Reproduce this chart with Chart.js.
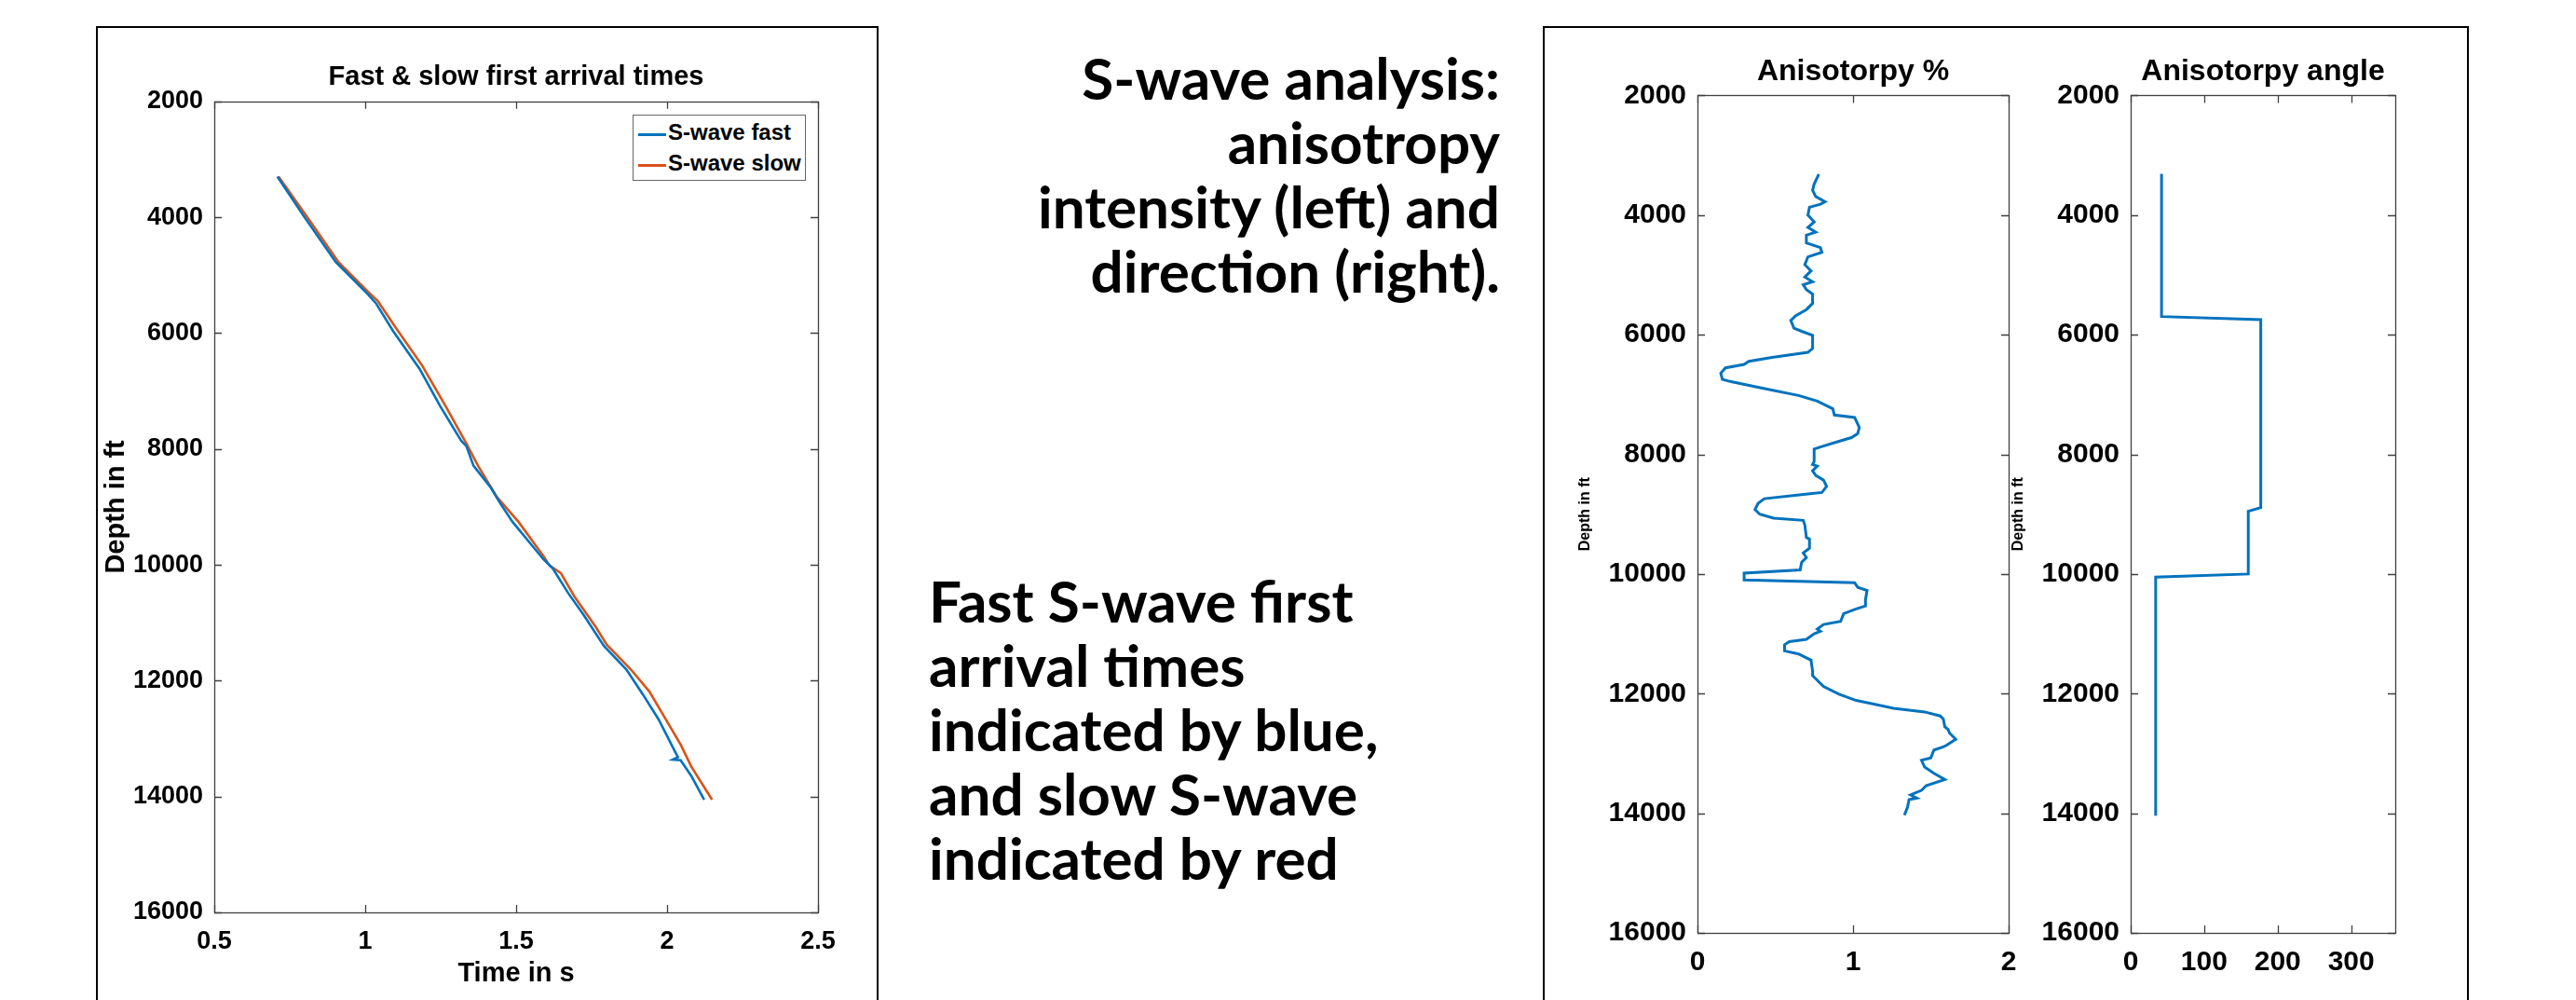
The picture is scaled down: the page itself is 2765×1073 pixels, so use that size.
<!DOCTYPE html>
<html>
<head>
<meta charset="utf-8">
<script src="https://cdn.jsdelivr.net/npm/chart.js@4.4.0/dist/chart.umd.min.js"></script>
<style>
  html, body { margin: 0; padding: 0; background: #fff; }
  body { width: 2765px; height: 1073px; position: relative; overflow: hidden; font-family: "Liberation Sans", Arial, sans-serif; }
  .frame { position: absolute; border: 2px solid #000; box-sizing: border-box; }
  canvas { position: absolute; }
  .note { position: absolute; font-family: Lato, "Open Sans", sans-serif; font-weight: 700; font-size: 62px; line-height: 69px; color: #000; white-space: nowrap; }
  #legend { position: absolute; left: 679px; top: 123px; width: 186px; height: 71px; box-sizing: border-box; border: 1px solid #666; background: #fff; padding-top: 4px; }
  #legend .row { position: relative; height: 33px; line-height: 33px; font: bold 24px "Liberation Sans", Arial, sans-serif; color: #000; }
  #legend .swatch { position: absolute; left: 5px; top: 15px; width: 30px; height: 3px; }
  #legend .label { position: absolute; left: 37px; top: 0; }
</style>
</head>
<body>
<div class="frame" style="left:103px; top:28px; width:840px; height:1100px;"></div>
<div class="frame" style="left:1656px; top:28px; width:994px; height:1100px;"></div>

<canvas id="arrivals" width="836" height="1043" style="left:104px; top:30px;"></canvas>
<div id="legend"></div>
<canvas id="pct" width="506" height="1043" style="left:1690px; top:30px;"></canvas>
<canvas id="angle" width="456" height="1043" style="left:2155px; top:30px;"></canvas>

<div class="note" style="right:1155px; top:49px; text-align:right;">S-wave analysis:<br>anisotropy<br>intensity (left) and<br>direction (right).</div>
<div class="note" style="left:997px; top:610px;">Fast S-wave first<br>arrival times<br>indicated by blue,<br>and slow S-wave<br>indicated by red</div>

<script>
// first arrival times (s) against depth (ft)
var depthFast = [3297, 4000, 4778, 5319, 5481, 5968, 6616, 7265, 7859, 7950, 8292, 8668, 8936, 9258, 9902, 10062, 10492, 10867, 11403, 11805, 12238, 12670, 13211, 13319, 13362, 13373, 13643, 14054];
var timeFast = [0.709, 0.799, 0.903, 1.007, 1.035, 1.093, 1.180, 1.249, 1.318, 1.335, 1.359, 1.416, 1.447, 1.488, 1.590, 1.621, 1.673, 1.724, 1.791, 1.865, 1.920, 1.972, 2.025, 2.036, 2.019, 2.045, 2.080, 2.123];
var depthSlow = [3297, 4000, 4778, 5319, 5449, 5914, 6562, 7265, 7914, 8292, 8828, 9265, 9848, 10014, 10143, 10545, 11081, 11377, 11805, 12184, 12562, 13103, 13481, 14054];
var timeSlow = [0.713, 0.808, 0.912, 1.016, 1.042, 1.102, 1.189, 1.267, 1.336, 1.374, 1.436, 1.509, 1.590, 1.611, 1.648, 1.693, 1.765, 1.800, 1.880, 1.941, 1.984, 2.045, 2.080, 2.149];

// anisotropy intensity (%)
var depthPct = [3316, 3482, 3585, 3689, 3777, 3819, 3870, 4000, 4114, 4207, 4285, 4337, 4466, 4544, 4622, 4699, 4829, 4933, 5036, 5114,
  5166, 5244, 5321, 5477, 5580, 5684, 5762, 5891, 5943, 6010, 6228, 6295, 6383, 6445, 6497, 6554, 6642, 6746, 6782, 6891,
  7016, 7109, 7238, 7342, 7383, 7549, 7653, 7720, 7782, 7876, 7912, 8119, 8171, 8197, 8275, 8352, 8430, 8534, 8637, 8663,
  8741, 8819, 8922, 9000, 9067, 9104, 9181, 9389, 9415, 9570, 9648, 9725, 9803, 9933, 9985, 10100, 10145, 10223, 10275, 10430,
  10534, 10585, 10663, 10793, 10845, 10922, 10958, 11000, 11093, 11130, 11181, 11285, 11337, 11440, 11622, 11699, 11751, 11881, 12010, 12114,
  12166, 12244, 12306, 12373, 12425, 12554, 12596, 12658, 12762, 12865, 12891, 12943, 13073, 13114, 13228, 13332, 13435, 13539, 13617, 13694,
  13746, 13772, 13902, 14031];
var anisoPct = [0.78, 0.75, 0.74, 0.76, 0.82, 0.79, 0.72, 0.71, 0.75, 0.71, 0.76, 0.70, 0.70, 0.79, 0.80, 0.71, 0.69, 0.73, 0.69, 0.74,
  0.68, 0.70, 0.74, 0.74, 0.70, 0.63, 0.60, 0.62, 0.67, 0.74, 0.74, 0.71, 0.47, 0.33, 0.30, 0.18, 0.15, 0.16, 0.21, 0.41,
  0.65, 0.77, 0.87, 0.88, 1.01, 1.04, 1.03, 0.99, 0.91, 0.79, 0.75, 0.75, 0.74, 0.77, 0.74, 0.76, 0.81, 0.83, 0.80, 0.71,
  0.43, 0.39, 0.37, 0.40, 0.49, 0.68, 0.69, 0.70, 0.72, 0.72, 0.68, 0.70, 0.67, 0.66, 0.30, 0.30, 1.01, 1.03, 1.09, 1.08,
  1.08, 1.02, 0.94, 0.92, 0.81, 0.77, 0.79, 0.75, 0.70, 0.59, 0.56, 0.56, 0.65, 0.73, 0.74, 0.74, 0.76, 0.81, 0.91, 1.02,
  1.12, 1.26, 1.46, 1.56, 1.58, 1.59, 1.61, 1.62, 1.66, 1.60, 1.58, 1.52, 1.50, 1.44, 1.46, 1.52, 1.59, 1.47, 1.44, 1.37,
  1.41, 1.36, 1.35, 1.33];

// anisotropy direction (degrees)
var depthAngle = [3309, 5696, 5749, 8890, 8953, 10000, 10052, 14040];
var anisoAngle = [42, 42, 177, 177, 160, 160, 34, 34];

var depthTicks = [2000, 4000, 6000, 8000, 10000, 12000, 14000, 16000];

var blue = '#0072BD';
var orange = '#D95319';
var sansBold = '"Liberation Sans", Arial, sans-serif';

function toPoints(xs, ys) {
  return xs.map(function (x, i) { return { x: x, y: ys[i] }; });
}

// MATLAB style box with inward ticks on all four sides
var boxTicks = {
  id: 'boxTicks',
  afterDraw: function (chart) {
    var c = chart.ctx, a = chart.chartArea, len = 8;
    c.save();
    c.strokeStyle = '#404040';
    c.lineWidth = 1.3;
    c.beginPath();
    chart.scales.x.ticks.forEach(function (t) {
      var px = Math.round(chart.scales.x.getPixelForValue(t.value)) + 0.5;
      c.moveTo(px, a.bottom); c.lineTo(px, a.bottom - len);
      c.moveTo(px, a.top); c.lineTo(px, a.top + len);
    });
    chart.scales.y.ticks.forEach(function (t) {
      var py = Math.round(chart.scales.y.getPixelForValue(t.value)) + 0.5;
      c.moveTo(a.left, py); c.lineTo(a.left + len, py);
      c.moveTo(a.right, py); c.lineTo(a.right - len, py);
    });
    c.stroke();
    c.strokeRect(Math.round(a.left) + 0.5, Math.round(a.top) + 0.5, Math.round(a.right - a.left), Math.round(a.bottom - a.top));
    c.restore();
  }
};

function depthAxis(width, tickSize, titleText, titleSize, titlePad) {
  return {
    type: 'linear', position: 'left', reverse: true, min: 2000, max: 16000,
    afterBuildTicks: function (s) { s.ticks = depthTicks.map(function (v) { return { value: v }; }); },
    afterFit: function (s) { s.width = width; },
    grid: { display: false, drawTicks: false },
    border: { display: false },
    ticks: { color: '#000', padding: 12, font: { family: sansBold, size: tickSize, weight: 'bold' }, callback: function (v) { return String(v); } },
    title: { display: true, text: titleText, color: '#000', padding: { top: titlePad, bottom: 0 }, font: { family: sansBold, size: titleSize, weight: 'bold' } }
  };
}

function valueAxis(min, max, tickValues, height, tickSize, pad, titleText) {
  return {
    type: 'linear', position: 'bottom', min: min, max: max,
    afterBuildTicks: function (s) { s.ticks = tickValues.map(function (v) { return { value: v }; }); },
    afterFit: function (s) { s.height = height; },
    grid: { display: false, drawTicks: false },
    border: { display: false },
    ticks: { color: '#000', padding: pad, maxRotation: 0, font: { family: sansBold, size: tickSize, weight: 'bold' }, callback: function (v) { return String(v); } },
    title: { display: !!titleText, text: titleText || '', color: '#000', padding: { top: 0, bottom: 11 }, font: { family: sansBold, size: 29, weight: 'bold' } }
  };
}

function titleOpts(text, size, top, bottom) {
  return { display: true, text: text, fullSize: false, color: '#000', padding: { top: top, bottom: bottom }, font: { family: sansBold, size: size, weight: 'bold' } };
}

function lineSet(label, pts, color, width) {
  return { label: label, data: pts, showLine: true, borderColor: color, backgroundColor: color, borderWidth: width, pointRadius: 0, tension: 0 };
}

Chart.defaults.animation = false;

var arrivals = new Chart(document.getElementById('arrivals'), {
  type: 'scatter',
  data: {
    datasets: [
      lineSet('S-wave fast', toPoints(timeFast, depthFast), blue, 2.6),
      lineSet('S-wave slow', toPoints(timeSlow, depthSlow), orange, 2.6)
    ]
  },
  options: {
    responsive: false, devicePixelRatio: 1,
    layout: { padding: { left: 0, right: 62, top: 0, bottom: 0 } },
    plugins: { legend: { display: false }, tooltip: { enabled: false }, title: titleOpts('Fast & slow first arrival times', 29, 36, 8) },
    scales: {
      x: valueAxis(0.5, 2.5, [0.5, 1, 1.5, 2, 2.5], 94, 27, 15, 'Time in s'),
      y: depthAxis(126, 27, 'Depth in ft', 29, 4)
    }
  },
  plugins: [boxTicks]
});

var pct = new Chart(document.getElementById('pct'), {
  type: 'scatter',
  data: { datasets: [lineSet('Anisotropy %', toPoints(anisoPct, depthPct), blue, 3)] },
  options: {
    responsive: false, devicePixelRatio: 1,
    layout: { padding: { left: 0, right: 40, top: 0, bottom: 0 } },
    plugins: { legend: { display: false }, tooltip: { enabled: false }, title: titleOpts('Anisotorpy %', 32, 28, 6) },
    scales: {
      x: valueAxis(0, 2, [0, 1, 2], 72, 30, 14),
      y: depthAxis(132, 30, 'Depth in ft', 16, 2)
    }
  },
  plugins: [boxTicks]
});

var angle = new Chart(document.getElementById('angle'), {
  type: 'scatter',
  data: { datasets: [lineSet('Anisotropy angle', toPoints(anisoAngle, depthAngle), blue, 3)] },
  options: {
    responsive: false, devicePixelRatio: 1,
    layout: { padding: { left: 0, right: 40, top: 0, bottom: 0 } },
    plugins: { legend: { display: false }, tooltip: { enabled: false }, title: titleOpts('Anisotorpy angle', 32, 28, 6) },
    scales: {
      x: valueAxis(0, 360, [0, 100, 200, 300], 72, 30, 14),
      y: depthAxis(132, 30, 'Depth in ft', 16, 2)
    }
  },
  plugins: [boxTicks]
});

// html legend built from the arrival chart datasets
var legendBox = document.getElementById('legend');
arrivals.data.datasets.forEach(function (ds) {
  var row = document.createElement('div');
  row.className = 'row';
  var sw = document.createElement('span');
  sw.className = 'swatch';
  sw.style.backgroundColor = ds.borderColor;
  var lb = document.createElement('span');
  lb.className = 'label';
  lb.textContent = ds.label;
  row.appendChild(sw);
  row.appendChild(lb);
  legendBox.appendChild(row);
});
</script>
</body>
</html>
